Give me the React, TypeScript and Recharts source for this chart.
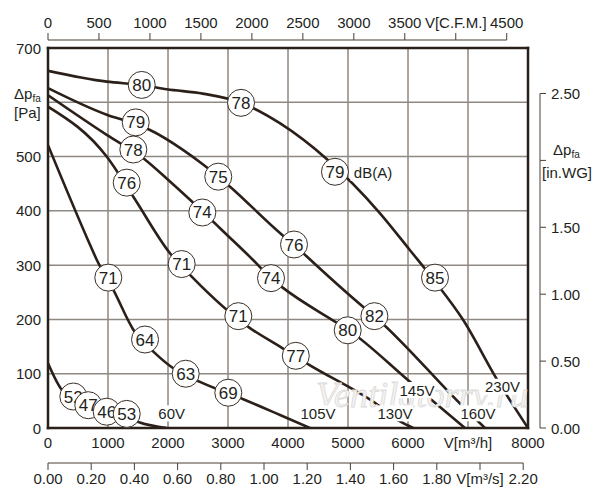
import React from 'react';
import { ComposedChart, Line, Scatter, XAxis, YAxis, CartesianGrid } from 'recharts';

// ---------- data (flow q in m³/h, pressure p in Pa) ----------
const curve230V = [
  { q: 0, p: 658 }, { q: 980, p: 638 }, { q: 1560, p: 632 }, { q: 1980, p: 624 },
  { q: 2580, p: 616 }, { q: 3220, p: 599 }, { q: 3870, p: 561 }, { q: 4650, p: 495 },
  { q: 5530, p: 396 }, { q: 6030, p: 328 }, { q: 6450, p: 270 }, { q: 6920, p: 199 },
  { q: 7480, p: 90 }, { q: 8000, p: 0 },
];
const curve160V = [
  { q: 0, p: 626 }, { q: 980, p: 577 }, { q: 1460, p: 560 }, { q: 1700, p: 549 },
  { q: 2255, p: 512 }, { q: 2590, p: 485 }, { q: 2840, p: 463 }, { q: 3030, p: 445 },
  { q: 3880, p: 358 }, { q: 4100, p: 338 }, { q: 4255, p: 322 }, { q: 5255, p: 223 },
  { q: 5440, p: 206 }, { q: 6920, p: 39 }, { q: 7283, p: 0 },
];
const curve145V = [
  { q: 0, p: 613 }, { q: 978, p: 540 }, { q: 1588, p: 497 }, { q: 2005, p: 457 },
  { q: 2755, p: 380 }, { q: 2867, p: 368 }, { q: 3422, p: 309 }, { q: 3717, p: 276 },
  { q: 3895, p: 260 }, { q: 4783, p: 196 }, { q: 5000, p: 181 }, { q: 6033, p: 85 },
  { q: 6950, p: 0 },
];
const curve130V = [
  { q: 0, p: 592 }, { q: 978, p: 500 }, { q: 1422, p: 426 }, { q: 2033, p: 322 },
  { q: 2395, p: 279 }, { q: 3367, p: 184 }, { q: 3867, p: 150 }, { q: 4312, p: 119 },
  { q: 5505, p: 42 }, { q: 5867, p: 12 }, { q: 6088, p: 0 },
];
const curve105V = [
  { q: 0, p: 521 }, { q: 667, p: 346 }, { q: 812, p: 310 }, { q: 1100, p: 252 },
  { q: 1422, p: 181 }, { q: 1783, p: 138 }, { q: 2088, p: 110 }, { q: 2533, p: 85 },
  { q: 3255, p: 53 }, { q: 3867, p: 24 }, { q: 4367, p: 0 },
];
const curve60V = [
  { q: 0, p: 119 }, { q: 230, p: 70 }, { q: 420, p: 55 }, { q: 670, p: 40 },
  { q: 980, p: 29 }, { q: 1310, p: 20 }, { q: 1530, p: 10 }, { q: 1980, p: 0 },
];
const curves = [curve230V, curve160V, curve145V, curve130V, curve105V, curve60V];

// noise level markers dB(A)
const markers230V = [
  { q: 1562, p: 632, db: '80' }, { q: 3217, p: 599, db: '78' },
  { q: 4783, p: 472, db: '79' }, { q: 6450, p: 277, db: '85' },
];
const markers160V = [
  { q: 1462, p: 563, db: '79' }, { q: 2838, p: 463, db: '75' },
  { q: 4100, p: 338, db: '76' }, { q: 5440, p: 206, db: '82' },
];
const markers145V = [
  { q: 1422, p: 513, db: '78' }, { q: 2572, p: 397, db: '74' },
  { q: 3717, p: 276, db: '74' }, { q: 4995, p: 180, db: '80' },
];
const markers130V = [
  { q: 1312, p: 452, db: '76' }, { q: 2228, p: 302, db: '71' },
  { q: 3172, p: 206, db: '71' }, { q: 4130, p: 133, db: '77' },
];
const markers105V = [
  { q: 1005, p: 277, db: '71' }, { q: 1617, p: 163, db: '64' },
  { q: 2295, p: 100, db: '63' }, { q: 3005, p: 65, db: '69' },
];
const markers60V = [
  { q: 422, p: 58, db: '52' }, { q: 672, p: 42, db: '47' },
  { q: 978, p: 30, db: '46' }, { q: 1312, p: 26, db: '53' },
];
const markers = [...markers230V, ...markers160V, ...markers145V, ...markers130V, ...markers105V, ...markers60V];

const textLabels = [
  { q: 5417, p: 470, text: 'dB(A)' },
  { q: 2062, p: 27, text: '60V' },
  { q: 4500, p: 27, text: '105V' },
  { q: 5783, p: 27, text: '130V' },
  { q: 6150, p: 70, text: '145V' },
  { q: 7167, p: 27, text: '160V' },
  { q: 7575, p: 76, text: '230V' },
];
const watermark = [{ q: 6233, p: 61, text: 'Ventilatorry.ru' }];

// axes ticks & labels
const m3hTicks = [0, 1000, 2000, 3000, 4000, 5000, 6000, 7000, 8000];
const m3hLabels = ['0', '1000', '2000', '3000', '4000', '5000', '6000', 'V[m³/h]', '8000'];
const cfmTicks = [0, 500, 1000, 1500, 2000, 2500, 3000, 3500, 4000, 4500];
const cfmLabels = ['0', '500', '1000', '1500', '2000', '2500', '3000', '3500', 'V[C.F.M.]', '4500'];
const m3sTicks = [0, 0.2, 0.4, 0.6, 0.8, 1.0, 1.2, 1.4, 1.6, 1.8, 2.0, 2.2];
const m3sLabels = ['0.00', '0.20', '0.40', '0.60', '0.80', '1.00', '1.20', '1.40', '1.60', '1.80', 'V[m³/s]', '2.20'];
const paTicks = [0, 100, 200, 300, 400, 500, 600, 700];
const paLabels = ['0', '100', '200', '300', '400', '500', '', '700'];
const inwgTicks = [0, 0.5, 1.0, 1.5, 2.0, 2.5];
const inwgLabels = ['0.00', '0.50', '1.00', '1.50', '', '2.50'];

// ---------- geometry / style ----------
const W = 600;
const H = 500;
const PLOT_H = 380;
const PLOT_W = 480;
const PA_MAX = 700;
const Q_MAX = 8000;
const CFM_MAX = Q_MAX / 1.699;
const M3S_MAX = Q_MAX / 3600;
const INWG_MAX = 2.84;

// axis range helpers so the secondary axes own a domain
const cfmRange = [{ cfm: 0 }, { cfm: CFM_MAX }];
const m3sRange = [{ m3s: 0 }, { m3s: M3S_MAX }];

const CFM_STEP = ((cfmTicks[1] - cfmTicks[0]) / CFM_MAX) * PLOT_W;
const M3S_STEP = ((m3sTicks[1] - m3sTicks[0]) / M3S_MAX) * PLOT_W;
const INWG_STEP = ((inwgTicks[1] - inwgTicks[0]) / INWG_MAX) * PLOT_H;

const TXT = '#231f1c';
const LINE = '#2a2019';
const AX = '#4a3e35';
const FONT = "'Liberation Sans', Arial, Helvetica, sans-serif";
const FS = 15;

const idx = (ticks: number[], v: number) => ticks.findIndex((t) => Math.abs(t - v) < 1e-6);

const CfmTick = (props: any) => {
  const { x, y, payload } = props;
  const i = idx(cfmTicks, payload.value);
  return (
    <g>
      <line x1={x} x2={x} y1={y - 8} y2={y - 15} stroke={AX} strokeWidth={1} />
      {i < cfmTicks.length - 1 && (
        <line x1={x} x2={x + CFM_STEP} y1={y - 8} y2={y - 8} stroke={AX} strokeWidth={1} />
      )}
      <text x={x} y={y - 20} textAnchor="middle" fontSize={FS} fill={TXT} fontFamily={FONT}>
        {cfmLabels[i]}
      </text>
    </g>
  );
};

const M3hTick = (props: any) => {
  const { x, y, payload } = props;
  return (
    <text x={x} y={y + 20} textAnchor="middle" fontSize={FS} fill={TXT} fontFamily={FONT}>
      {m3hLabels[idx(m3hTicks, payload.value)]}
    </text>
  );
};

const M3sTick = (props: any) => {
  const { x, y, payload } = props;
  const i = idx(m3sTicks, payload.value);
  return (
    <g>
      <line x1={x} x2={x} y1={y} y2={y + 7} stroke={AX} strokeWidth={1} />
      {i < m3sTicks.length - 1 && (
        <line x1={x} x2={x + M3S_STEP} y1={y} y2={y} stroke={AX} strokeWidth={1} />
      )}
      <text x={x} y={y + 21} textAnchor="middle" fontSize={FS} fill={TXT} fontFamily={FONT}>
        {m3sLabels[i]}
      </text>
    </g>
  );
};

const PaTick = (props: any) => {
  const { x, y, payload } = props;
  const text = paLabels[idx(paTicks, payload.value)];
  if (text === '') {
    return (
      <g fontFamily={FONT} fill={TXT}>
        <text x={x - 34} y={y - 3} fontSize={FS}>
          Δp<tspan fontSize={10} dy={3}>fa</tspan>
        </text>
        <text x={x - 34} y={y + 16} fontSize={FS}>[Pa]</text>
      </g>
    );
  }
  return (
    <text x={x - 7} y={y + 5.5} textAnchor="end" fontSize={FS} fill={TXT} fontFamily={FONT}>
      {text}
    </text>
  );
};

const InwgTick = (props: any) => {
  const { x, y, payload } = props;
  const i = idx(inwgTicks, payload.value);
  const text = inwgLabels[i];
  return (
    <g fontFamily={FONT} fill={TXT}>
      <line x1={x + 12} x2={x + 18} y1={y} y2={y} stroke={AX} strokeWidth={1} />
      {i < inwgTicks.length - 1 && (
        <line x1={x + 12} x2={x + 12} y1={y} y2={y - INWG_STEP} stroke={AX} strokeWidth={1} />
      )}
      {text !== '' ? (
        <text x={x + 23} y={y + 5.5} fontSize={FS}>{text}</text>
      ) : (
        <g>
          <text x={x + 25} y={y - 5} fontSize={FS}>
            Δp<tspan fontSize={10} dy={3}>fa</tspan>
          </text>
          <text x={x + 14} y={y + 18} fontSize={FS}>[in.WG]</text>
        </g>
      )}
    </g>
  );
};

const MarkerShape = (props: any) => {
  const { cx, cy, payload } = props;
  return (
    <g>
      <circle cx={cx} cy={cy} r={13.5} fill="#ffffff" stroke="#3a2f27" strokeWidth={1} />
      <text x={cx} y={cy + 6} textAnchor="middle" fontSize={17} fill={TXT} fontFamily={FONT}>
        {payload.db}
      </text>
    </g>
  );
};

const LabelShape = (props: any) => {
  const { cx, cy, payload } = props;
  const w = payload.text.length * 8.6 + 2;
  return (
    <g>
      <rect x={cx - w / 2} y={cy - 8} width={w} height={16} fill="#ffffff" />
      <text x={cx} y={cy + 5.5} textAnchor="middle" fontSize={FS} fill={TXT} fontFamily={FONT}>
        {payload.text}
      </text>
    </g>
  );
};

const WatermarkShape = (props: any) => {
  const { cx, cy, payload } = props;
  return (
    <text
      x={cx}
      y={cy + 12}
      textAnchor="middle"
      fontSize={36}
      fontStyle="italic"
      fontFamily="'Liberation Serif', 'DejaVu Serif', serif"
      fill="#f3f2f1"
      stroke="#dcdad8"
      strokeWidth={0.8}
      textLength={212}
      lengthAdjust="spacingAndGlyphs"
    >
      {payload.text}
    </text>
  );
};

const border = { stroke: LINE, strokeWidth: 2.5, strokeLinecap: 'square' as const };

export default function App() {
  return (
    <div style={{ position: 'absolute', left: 0, top: 0, width: W, height: H, background: '#fff' }}>
      <ComposedChart width={W} height={H} margin={{ top: 0, right: 0, bottom: 0, left: 0 }}>
        <XAxis
          xAxisId="cfm"
          dataKey="cfm"
          orientation="top"
          type="number"
          domain={[0, CFM_MAX]}
          ticks={cfmTicks}
          interval={0}
          height={48}
          tickSize={0}
          tickMargin={0}
          tickLine={false}
          axisLine={border}
          tick={CfmTick}
          allowDataOverflow
        />
        <XAxis
          xAxisId="m3h"
          dataKey="q"
          type="number"
          domain={[0, Q_MAX]}
          ticks={m3hTicks}
          interval={0}
          height={35}
          tickSize={0}
          tickMargin={0}
          tickLine={false}
          axisLine={border}
          tick={M3hTick}
          allowDataOverflow
        />
        <XAxis
          xAxisId="m3s"
          dataKey="m3s"
          type="number"
          domain={[0, M3S_MAX]}
          ticks={m3sTicks}
          interval={0}
          height={37}
          tickSize={0}
          tickMargin={0}
          tickLine={false}
          axisLine={false}
          tick={M3sTick}
          allowDataOverflow
        />
        <YAxis
          yAxisId="pa"
          dataKey="p"
          type="number"
          domain={[0, PA_MAX]}
          ticks={paTicks}
          interval={0}
          width={48}
          tickSize={0}
          tickMargin={0}
          tickLine={false}
          axisLine={border}
          tick={PaTick}
          allowDataOverflow
        />
        <YAxis
          yAxisId="inwg"
          orientation="right"
          type="number"
          domain={[0, INWG_MAX]}
          ticks={inwgTicks}
          interval={0}
          width={72}
          tickSize={0}
          tickMargin={0}
          tickLine={false}
          axisLine={border}
          tick={InwgTick}
          allowDataOverflow
        />
        <CartesianGrid xAxisId="m3h" yAxisId="pa" horizontal={false} stroke="#5a4a3d" strokeWidth={1} />
        <CartesianGrid xAxisId="m3h" yAxisId="pa" vertical={false} stroke="#8f8984" strokeWidth={1.5} />

        <Line
          data={cfmRange}
          xAxisId="cfm"
          yAxisId="pa"
          dataKey="p"
          stroke="none"
          dot={false}
          activeDot={false}
          legendType="none"
          isAnimationActive={false}
        />
        <Line
          data={m3sRange}
          xAxisId="m3s"
          yAxisId="pa"
          dataKey="p"
          stroke="none"
          dot={false}
          activeDot={false}
          legendType="none"
          isAnimationActive={false}
        />

        <Scatter
          data={watermark}
          xAxisId="m3h"
          yAxisId="pa"
          dataKey="p"
          shape={WatermarkShape}
          isAnimationActive={false}
        />
        {curves.map((c, i) => (
          <Line
            key={i}
            data={c}
            xAxisId="m3h"
            yAxisId="pa"
            dataKey="p"
            type="monotone"
            stroke={LINE}
            strokeWidth={2.6}
            dot={false}
            activeDot={false}
            isAnimationActive={false}
          />
        ))}
        <Scatter
          data={textLabels}
          xAxisId="m3h"
          yAxisId="pa"
          dataKey="p"
          shape={LabelShape}
          isAnimationActive={false}
        />
        <Scatter
          data={markers}
          xAxisId="m3h"
          yAxisId="pa"
          dataKey="p"
          shape={MarkerShape}
          isAnimationActive={false}
        />
      </ComposedChart>
    </div>
  );
}
